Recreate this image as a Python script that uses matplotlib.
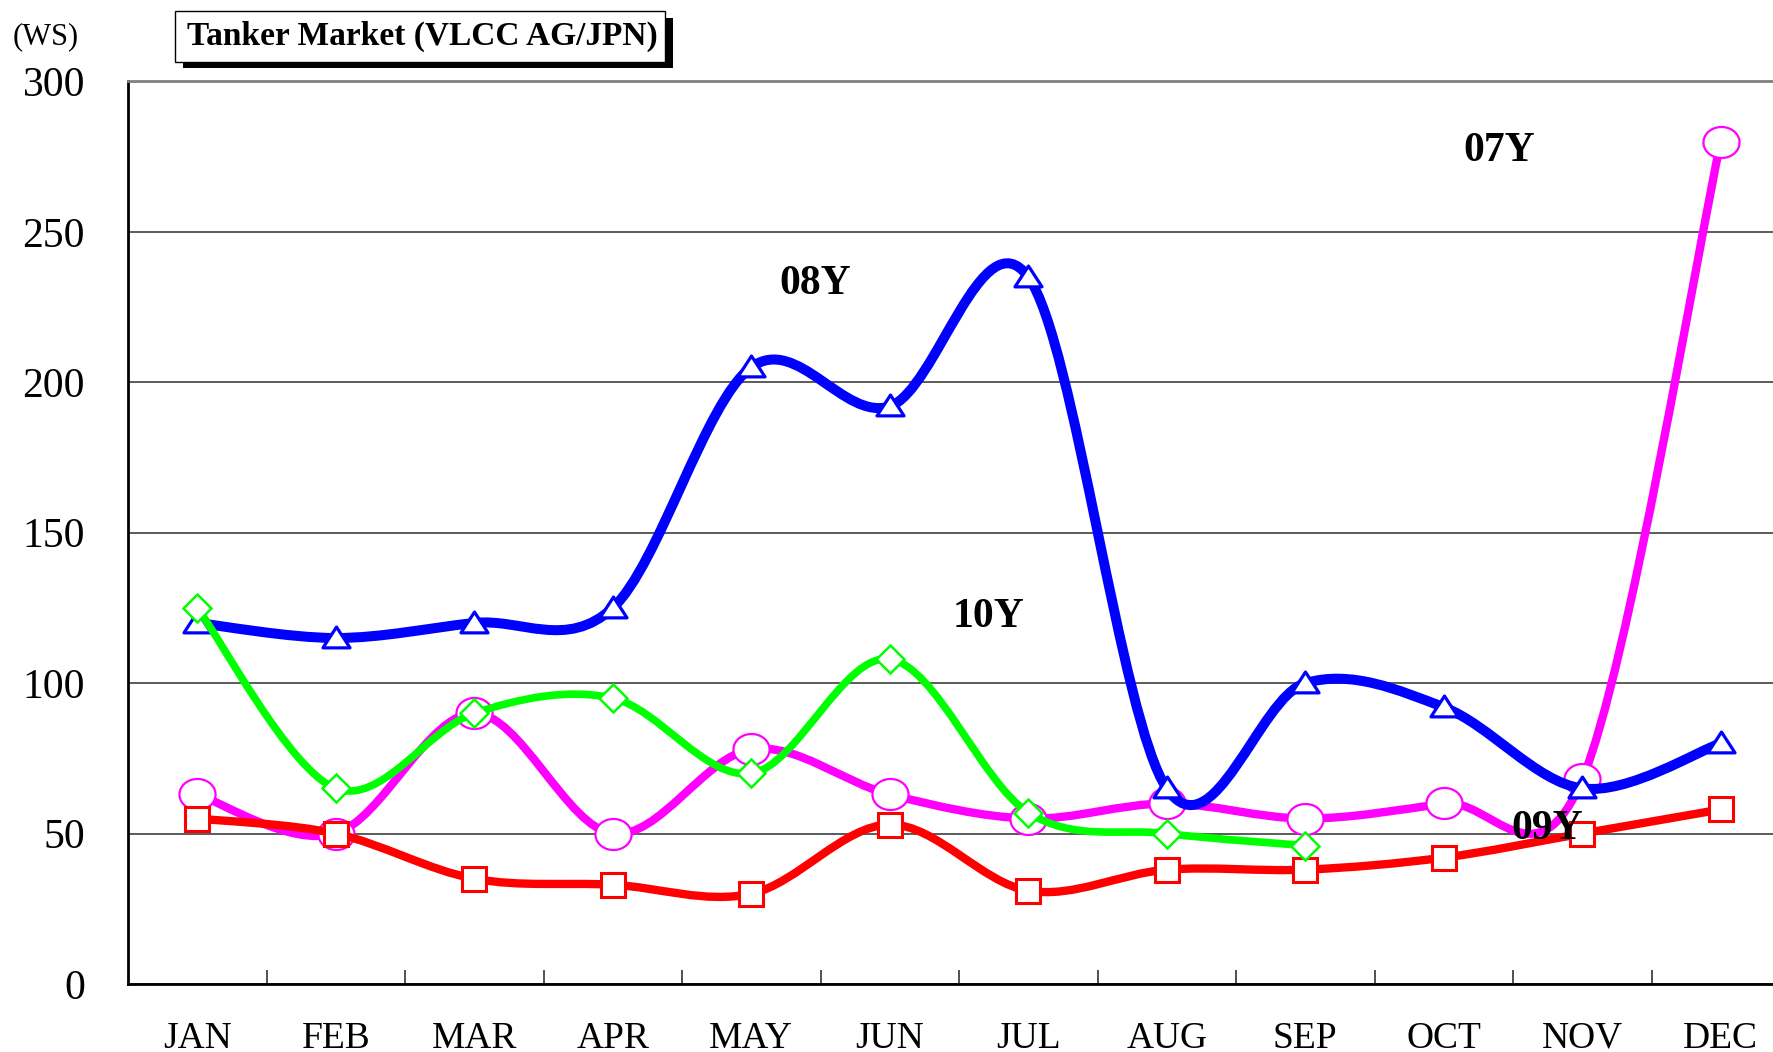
import numpy as np
import matplotlib
matplotlib.use("Agg")
import matplotlib.pyplot as plt
from matplotlib.path import Path
from matplotlib.patches import PathPatch, Rectangle

months = ["JAN", "FEB", "MAR", "APR", "MAY", "JUN", "JUL", "AUG", "SEP", "OCT", "NOV", "DEC"]
y07 = [63, 50, 90, 50, 78, 63, 55, 60, 55, 60, 68, 280]
y08 = [120, 115, 120, 125, 205, 192, 235, 65, 100, 92, 65, 80]
y09 = [55, 50, 35, 33, 30, 53, 31, 38, 38, 42, 50, 58]
y10 = [125, 65, 90, 95, 70, 108, 57, 50, 46]
yticks = [0, 50, 100, 150, 200, 250, 300]

W, H = 1773, 1052
fig = plt.figure(figsize=(W / 100, H / 100), dpi=100)
left, right_px, top_px, bot_px = 128, 1790, 81.4, 984
ax = fig.add_axes([left / W, (H - bot_px) / H, (right_px - left) / W, (bot_px - top_px) / H])

serif = "Liberation Serif"


def smooth_path(ys):
    x = np.arange(len(ys), dtype=float)
    y = np.asarray(ys, dtype=float)
    pts = np.column_stack([x, y])
    ext = np.vstack([pts[0], pts, pts[-1]])
    verts = [pts[0]]
    codes = [Path.MOVETO]
    for i in range(len(pts) - 1):
        p0, p1, p2, p3 = ext[i], ext[i + 1], ext[i + 2], ext[i + 3]
        c1 = p1 + (p2 - p0) / 6.0
        c2 = p2 - (p3 - p1) / 6.0
        verts += [c1, c2, p2]
        codes += [Path.CURVE4] * 3
    return Path(verts, codes)


# slightly flattened marker shapes
t = np.linspace(0, 2 * np.pi, 60)
ellipse = Path(np.column_stack([np.cos(t), 0.86 * np.sin(t)]), closed=True)
tri = Path([(0, 0.55), (-0.65, -0.45), (0.65, -0.45), (0, 0.55)], closed=True)

series = [
    (y07, "#FF00FF", ellipse, 26, 1.6, 6.0),
    (y08, "#0000FF", tri, 19.5, 2.3, 7.2),
    (y09, "#FF0000", "s", 17.5, 2.2, 6.0),
    (y10, "#00FF00", "D", 14, 1.8, 5.5),
]
z = 3
for ys, col, mk, ms, mew, lw in series:
    pp = PathPatch(smooth_path(ys), facecolor="none", edgecolor=col, lw=lw,
                   capstyle="round", joinstyle="round", zorder=z)
    ax.add_patch(pp)
    ax.plot(np.arange(len(ys)), ys, linestyle="none", marker=mk, ms=ms,
            mfc="white", mec=col, mew=mew, zorder=z + 0.5, clip_on=False)
    z += 1

ax.set_xlim(-0.5, 11.5)
ax.set_ylim(0, 300)
ax.set_yticks(yticks)
ax.set_yticklabels([str(v) for v in yticks], fontfamily=serif, fontsize=30)
ax.tick_params(axis="y", length=0, pad=31)
ax.set_xticks(range(12))
ax.set_xticklabels(months, fontfamily=serif, fontsize=27)
ax.set_xticks(np.arange(0.5, 11.5, 1.0), minor=True)
ax.tick_params(axis="x", which="major", length=0, pad=27)
ax.tick_params(axis="x", which="minor", direction="in", length=10, width=1.2, color="#333333")
ax.grid(axis="y", color="#404040", lw=1.2, zorder=1)
ax.set_axisbelow(True)
for s in ["left", "bottom"]:
    ax.spines[s].set_color("black")
    ax.spines[s].set_linewidth(2)
ax.spines["top"].set_color("#808080")
ax.spines["top"].set_linewidth(2)
ax.spines["right"].set_visible(False)

lab = dict(fontfamily=serif, fontweight="bold", fontsize=30, ha="center", va="center", zorder=10)
ax.text(4.46, 232.5, "08Y", **lab)
ax.text(9.40, 277, "07Y", **lab)
ax.text(5.71, 122, "10Y", **lab)
ax.text(9.75, 51.5, "09Y", **lab)

# title box with shadow
def frac_rect(x0, y0, x1, y1, **kw):
    return Rectangle((x0 / W, (H - y1) / H), (x1 - x0) / W, (y1 - y0) / H,
                     transform=fig.transFigure, **kw)

fig.patches.append(frac_rect(183, 18, 673, 68, facecolor="black", edgecolor="none", zorder=1))
fig.patches.append(frac_rect(175, 11, 665, 62, facecolor="white", edgecolor="black", lw=1, zorder=2))
fig.text(422 / W, 1 - 36 / H, "Tanker Market (VLCC AG/JPN)", fontfamily=serif,
         fontweight="bold", fontsize=24, ha="center", va="center", zorder=3)
fig.text(46 / W, 1 - 37 / H, "(WS)", fontfamily=serif, fontsize=22, ha="center", va="center")

fig.savefig("out.png", dpi=100)
